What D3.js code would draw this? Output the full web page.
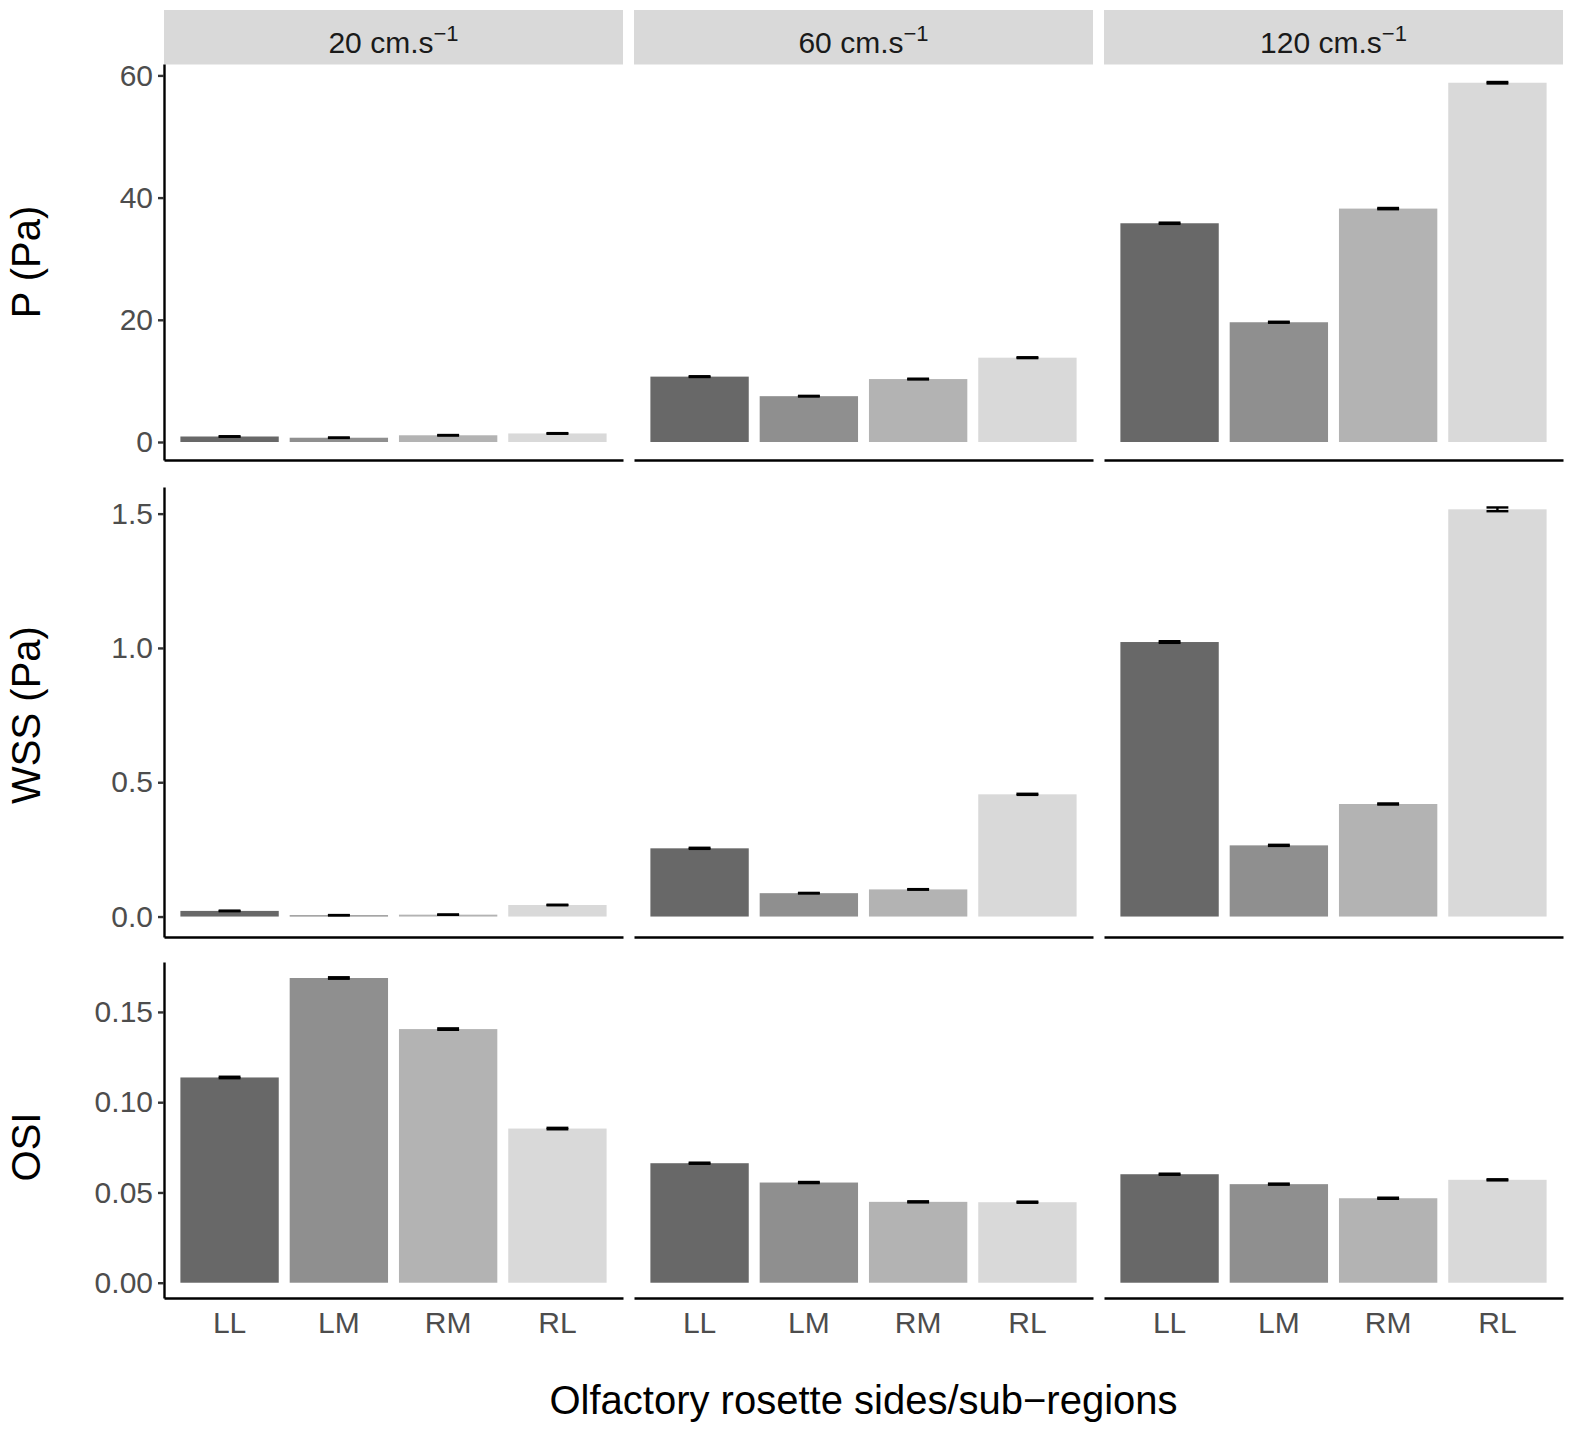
<!DOCTYPE html>
<html>
<head>
<meta charset="utf-8">
<script src="https://cdn.jsdelivr.net/npm/d3@7"></script>
<style>
  body { margin: 0; background: #fff; }
  text { font-family: "Liberation Sans", Arial, Helvetica, sans-serif; }
</style>
</head>
<body>
<svg id="chart" width="1574" height="1431"></svg>
<script>
'use strict';

// categories and facets
const regions = ["LL", "LM", "RM", "RL"];
const speeds = ["20", "60", "120"];
const regionColors = ["#686868", "#8f8f8f", "#b3b3b3", "#d9d9d9"];

// P (Pa): one array per speed, values in region order
const pMean = [[0.9, 0.7, 1.1, 1.4], [10.7, 7.5, 10.3, 13.8], [35.8, 19.6, 38.2, 58.8]];
const pErr = [[0.04, 0.03, 0.04, 0.05], [0.06, 0.05, 0.06, 0.07], [0.1, 0.08, 0.1, 0.12]];
const pTicks = [0, 20, 40, 60];

// WSS (Pa)
const wssMean = [[0.021, 0.005, 0.007, 0.043], [0.254, 0.087, 0.101, 0.455], [1.022, 0.265, 0.419, 1.516]];
const wssErr = [[0.001, 0.0005, 0.0005, 0.001], [0.002, 0.001, 0.001, 0.002], [0.003, 0.002, 0.002, 0.007]];
const wssTicks = [0, 0.5, 1.0, 1.5];

// OSI
const osiMean = [[0.1137, 0.1688, 0.1405, 0.0854], [0.0662, 0.0555, 0.0448, 0.0446], [0.0601, 0.0546, 0.0468, 0.0570]];
const osiErr = [[0.0004, 0.0004, 0.0004, 0.0004], [0.0003, 0.0003, 0.0003, 0.0003], [0.0003, 0.0003, 0.0003, 0.0003]];
const osiTicks = [0, 0.05, 0.10, 0.15];

const metrics = [
  {title: "P (Pa)", mean: pMean, err: pErr, ticks: pTicks, fmt: d3.format("d")},
  {title: "WSS (Pa)", mean: wssMean, err: wssErr, ticks: wssTicks, fmt: d3.format(".1f")},
  {title: "OSI", mean: osiMean, err: osiErr, ticks: osiTicks, fmt: d3.format(".2f")}
];

// layout
const colLeft = [164, 634, 1104];
const panelW = 459;
const rowTop = [64, 487, 962];
const rowBottom = [460, 937, 1298];
const rowTitleY = [262, 715, 1147];
const stripTop = 10, stripH = 54.5;
const lineW = 2.4;

const svg = d3.select("#chart");

// facet strips
speeds.forEach(function(s, c) {
  const g = svg.append("g");
  g.append("rect")
    .attr("x", colLeft[c]).attr("y", stripTop)
    .attr("width", panelW).attr("height", stripH)
    .attr("fill", "#d9d9d9");
  const t = g.append("text")
    .attr("x", colLeft[c] + panelW / 2).attr("y", 53)
    .attr("text-anchor", "middle")
    .attr("font-size", 30).attr("fill", "#1a1a1a");
  t.append("tspan").text(s + " cm.s");
  t.append("tspan").attr("dy", -12).attr("font-size", 22).text("\u22121");
});

metrics.forEach(function(m, r) {
  // shared y scale per row, 5% expansion like ggplot
  const maxV = d3.max(m.mean.flatMap((arr, c) => arr.map((v, i) => v + m.err[c][i])));
  const y = d3.scaleLinear()
    .domain([-0.05 * maxV, 1.05 * maxV])
    .range([rowBottom[r], rowTop[r]]);

  speeds.forEach(function(s, c) {
    const x = d3.scaleBand()
      .domain(regions)
      .range([colLeft[c], colLeft[c] + panelW])
      .paddingInner(0.1)
      .paddingOuter(0.15);
    const ebW = x.step() * 0.2;

    const rows = regions.map((reg, i) => ({reg: reg, i: i, v: m.mean[c][i], e: m.err[c][i]}));
    const g = svg.append("g");

    g.selectAll("rect.bar").data(rows).join("rect")
      .attr("class", "bar")
      .attr("x", d => x(d.reg))
      .attr("width", x.bandwidth())
      .attr("y", d => y(d.v))
      .attr("height", d => y(0) - y(d.v))
      .attr("fill", d => regionColors[d.i]);

    // error bars
    const eb = g.selectAll("g.eb").data(rows).join("g").attr("class", "eb")
      .attr("stroke", "#000").attr("stroke-width", lineW).attr("fill", "none");
    eb.append("line")
      .attr("x1", d => x(d.reg) + x.bandwidth() / 2).attr("x2", d => x(d.reg) + x.bandwidth() / 2)
      .attr("y1", d => y(d.v - d.e)).attr("y2", d => y(d.v + d.e));
    [-1, 1].forEach(function(sign) {
      eb.append("line")
        .attr("x1", d => x(d.reg) + x.bandwidth() / 2 - ebW / 2)
        .attr("x2", d => x(d.reg) + x.bandwidth() / 2 + ebW / 2)
        .attr("y1", d => y(d.v + sign * d.e)).attr("y2", d => y(d.v + sign * d.e));
    });

    // bottom axis line (labels only on the last row)
    const xAxis = d3.axisBottom(x).tickSize(0).tickPadding(14).tickSizeOuter(0);
    const gx = svg.append("g")
      .attr("transform", "translate(0," + rowBottom[r] + ")")
      .call(xAxis);
    gx.select(".domain").attr("stroke", "#000").attr("stroke-width", lineW);
    if (r < metrics.length - 1) {
      gx.selectAll(".tick").remove();
    } else {
      gx.selectAll(".tick text")
        .attr("font-size", 30).attr("fill", "#4d4d4d")
        .attr("font-family", "Liberation Sans, Arial, sans-serif");
    }

    // left axis only on the first column
    if (c === 0) {
      const yAxis = d3.axisLeft(y).tickValues(m.ticks).tickFormat(m.fmt)
        .tickSize(6).tickPadding(5).tickSizeOuter(0);
      const gy = svg.append("g")
        .attr("transform", "translate(" + colLeft[0] + ",0)")
        .call(yAxis);
      gy.select(".domain").attr("stroke", "#000").attr("stroke-width", lineW);
      gy.selectAll(".tick line").attr("stroke", "#333").attr("stroke-width", lineW);
      gy.selectAll(".tick text")
        .attr("font-size", 30).attr("fill", "#4d4d4d")
        .attr("font-family", "Liberation Sans, Arial, sans-serif");
    }
  });

  // row title
  svg.append("text")
    .attr("transform", "translate(40," + rowTitleY[r] + ") rotate(-90)")
    .attr("text-anchor", "middle")
    .attr("font-size", 40).attr("fill", "#000")
    .text(m.title);
});

// x axis title
svg.append("text")
  .attr("x", colLeft[0] + (colLeft[2] + panelW - colLeft[0]) / 2)
  .attr("y", 1414)
  .attr("text-anchor", "middle")
  .attr("font-size", 40).attr("fill", "#000")
  .text("Olfactory rosette sides/sub\u2212regions");
</script>
</body>
</html>
